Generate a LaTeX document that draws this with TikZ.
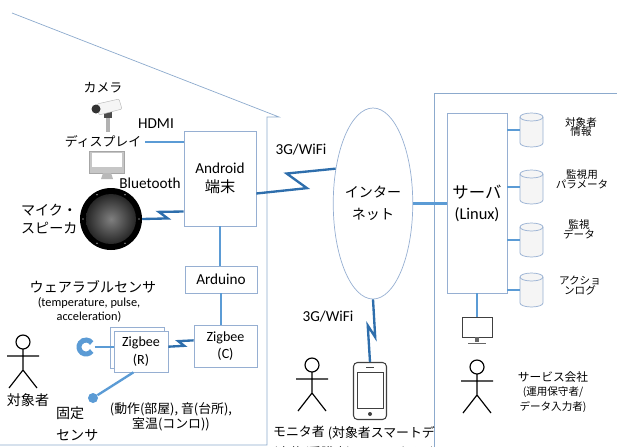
\documentclass[tikz,border=0pt]{standalone}
\usepackage{fontspec}
\setmainfont{Carlito}
\newfontfamily\jp{Noto Sans CJK JP}
\usetikzlibrary{calc,positioning,shapes.geometric,shadows}
\definecolor{linkblue}{RGB}{91,155,213}
\definecolor{boltblue}{RGB}{46,110,172}
\definecolor{edgegray}{RGB}{150,175,210}
\definecolor{wallblue}{RGB}{140,170,205}
\tikzset{
    box/.style={
           rectangle,
           draw=edgegray, fill=white,
           line width=0.6pt,
           inner sep=0pt,
           align=center},
    link/.style={
           draw=linkblue,
           line width=2pt},
    bolt/.style={
           draw=boltblue,
           line width=2pt,
           to path={-- ($(\tikztostart)!0.6!(\tikztotarget)!#1!90:(\tikztotarget)$)
                    -- ($(\tikztostart)!0.42!(\tikztotarget)!#1!-90:(\tikztotarget)$)
                    -- (\tikztotarget)}},
    dbcyl/.pic={
           \path[draw=edgegray, fill=gray!8, line width=0.6pt]
                (-11.5,-13) -- (-11.5,13)
                arc[start angle=180, end angle=0, x radius=11.5, y radius=4]
                -- (11.5,-13)
                arc[start angle=0, end angle=-180, x radius=11.5, y radius=4] -- cycle;
           \draw[edgegray, line width=0.6pt] (-11.5,-13)
                arc[start angle=180, end angle=0, x radius=11.5, y radius=4];
           \coordinate (-w) at (-11.5,0);},
    lbl/.style={
           font=\jp\fontsize{11}{13}\selectfont,
           align=center},
    latin/.style={
           font=\fontsize{13}{16}\selectfont},
    dblbl/.style={
           font=\jp\fontsize{9}{8.5}\selectfont,
           align=center},
    person/.pic={
           \draw[line width=1pt] (0,-28) circle (7);
           \draw[line width=1pt] (0,-21) -- (0,0) (-16,-14) -- (16,-14)
                (-14,18) -- (0,0) -- (14,18);}
}

\begin{document}
\begin{tikzpicture}[x=0.03cm, y=-0.03cm]
        \clip (0,0) rectangle (617,446);
        % house and service company area
        \draw[wallblue, line width=0.6pt] (12,13) -- (279,117) -- (267,117) -- (267,445) -- (0,445);
        \draw[wallblue, line width=0.6pt] (434,93) rectangle (650,480);

        % home side
        \node[box, latin, minimum width=2.16cm, minimum height=2.85cm] (android) at (220,178.5) {Android\\{\jp 端末}};
        \node[box, latin, minimum width=2.16cm, minimum height=0.81cm] (arduino) at (221,279.5) {Arduino};
        \node[box, font=\fontsize{12}{15}\selectfont, minimum width=1.89cm, minimum height=1.26cm] (zigc) at (225.5,346) {Zigbee\\(C)};
        \node[box, font=\fontsize{12}{15}\selectfont, minimum width=1.62cm, minimum height=1.23cm,
              copy shadow={shadow xshift=-0.1cm, shadow yshift=0.12cm, draw=edgegray, fill=white}] (zigr) at (141,351.5) {Zigbee\\(R)};

        % camera
        \node[lbl] (camlbl) at (103,88) {カメラ};
        \fill[gray!60] (106,114) rectangle (110,132);
        \fill[black!70] (104,112) rectangle (112,118);
        \draw[gray!55, fill=gray!8, rounded corners=1pt] (97,104) -- (119,99) -- (122,109) -- (99,115) -- cycle;
        \fill[black!80] (96,109) circle (4.5);

        % display
        \node[lbl] (displbl) at (103,142) {ディスプレイ};
        \node[draw=gray!70, fill=gray!45, minimum width=1.05cm, minimum height=0.66cm, inner sep=0pt] (disp) at (106.5,162) {};
        \fill[white] (92,153) rectangle (122,167);
        \fill[gray!55] (103,173) -- (111,173) -- (113,179) -- (101,179) -- cycle;
        \node[latin] (hdmi) at (156,124) {HDMI};

        % microphone speaker
        \node[circle, fill=black, minimum size=1.86cm, inner sep=0pt] (spk) at (111,219) {};
        \shade[inner color=black!50, outer color=black!85] (spk.center) circle (25);
        \foreach \a in {0,60,...,300}
            \fill[white] ($(spk.center)+(\a:28)$) circle (0.7);
        \node[lbl, anchor=west, align=left, font=\jp\fontsize{12}{15}\selectfont] (spklbl) at (17,219) {マイク・\\スピーカ};
        \node[latin] (btlbl) at (150,183) {Bluetooth};

        % wearable and fixed sensors
        \node[lbl, font=\jp\fontsize{12}{14}\selectfont] (wearlbl) at (93,287) {ウェアラブルセンサ};
        \node[font=\fontsize{10.5}{12}\selectfont, align=center] (wearsub) at (89,310) {(temperature, pulse,\\acceleration)};
        \node[circle, minimum size=0.5cm, inner sep=0pt] (band) at (86,347) {};
        \draw[linkblue, line width=0.15cm] ($(band.center)+(35:7)$) arc (35:325:7);
        \node[circle, fill=linkblue, minimum size=0.3cm, inner sep=0pt] (fixdot) at (93,398) {};
        \node[lbl, anchor=west, align=left, font=\jp\fontsize{12}{19}\selectfont] (fixlbl) at (52,424) {固定\\センサ};
        \node[lbl, font=\jp\fontsize{11}{10}\selectfont] (fixsub) at (171,417) {(動作(部屋), 音(台所),\\室温(コンロ))};
        \pic at (23,370) {person};
        \node[lbl, font=\jp\fontsize{12}{14}\selectfont] (subject) at (28,400) {対象者};

        % internet
        \node[ellipse, draw=edgegray, line width=0.6pt, minimum width=2.1cm, minimum height=5.73cm, inner sep=0pt,
              font=\jp\fontsize{12}{19}\selectfont, align=center] (inet) at (373,203.5) {インター\\ネット};
        \node[latin] (wan1) at (301,150) {3G/WiFi};
        \node[latin] (wan2) at (328,317) {3G/WiFi};

        % monitor person and phone
        \node[draw=black!75, line width=0.9pt, rounded corners=0.12cm, minimum width=0.99cm, minimum height=1.71cm, inner sep=0pt] (phone) at (370,391) {};
        \draw[black!75, line width=0.7pt] (357,372) rectangle (383,408);
        \draw[black!75, line width=0.7pt] (366,367) -- (374,367);
        \fill[black!75] (370,414) circle (2);
        \pic at (312,393) {person};
        \node[lbl, anchor=north west, align=left, font=\jp\fontsize{11}{17.5}\selectfont] (monlbl) at (269,422) {モニタ者\\(家族/看護士)};
        \node[lbl, anchor=north east, align=right, font=\jp\fontsize{11}{17.5}\selectfont] (phonelbl) at (439,422) {(対象者スマートデ\\バイス)};

        % server side
        \node[box, font=\fontsize{14}{18}\selectfont, minimum width=1.8cm, minimum height=5.4cm] (server) at (477,203) {{\jp サーバ}\\(Linux)};
        \pic (db1) at (531.5,130) {dbcyl};
        \pic (db2) at (531.5,187) {dbcyl};
        \pic (db3) at (531.5,240) {dbcyl};
        \pic (db4) at (531.5,290) {dbcyl};
        \node[dblbl] (db1lbl) at (581,127) {対象者\\情報};
        \node[dblbl] (db2lbl) at (582,179) {監視用\\パラメータ};
        \node[dblbl] (db3lbl) at (579,229.5) {監視\\データ};
        \node[dblbl] (db4lbl) at (580,286) {アクショ\\ンログ};
        \node[draw=black!75, line width=0.8pt, minimum width=0.9cm, minimum height=0.6cm, inner sep=0pt] (mon) at (477,327) {};
        \fill[black!60] (475,337) rectangle (479,342);
        \draw[black!60, line width=0.8pt] (468,343) -- (486,343);
        \pic at (477,395) {person};
        \node[lbl, font=\jp\fontsize{10}{12.5}\selectfont] (corp) at (553,392) {サービス会社\\{\fontsize{9}{12}\selectfont (運用保守者/}\\{\fontsize{9}{12}\selectfont データ入力者)}};

        % wired links
        \draw[link] (displbl.east) -- (displbl.east -| android.west);
        \draw[link] (android.south) -- (android.south |- arduino.north);
        \draw[link] (arduino.south) -- (arduino.south |- zigc.north);
        \draw[link] (band.east) -- (band.east -| zigr.west);
        \draw[link] (zigr.250) -- (fixdot);
        \draw[link] (inet.east) -- (inet.east -| server.west);
        \foreach \d in {db1,db2,db3,db4}
            \draw[link] (\d-w -| server.east) -- (\d-w);
        \draw[link] (server.south) -- (mon.north);

        % wireless links
        \coordinate (btend) at ($(android.west)+(0,33)$);
        \coordinate (wanstart) at ($(android.east)+(0,15)$);
        \draw[bolt=-0.12cm] (spk.east) to (btend);
        \draw[bolt=-0.3cm] (wanstart) to (inet.137);
        \draw[bolt=-0.09cm] (zigr.10) to (zigc.170);
        \draw[bolt=0.12cm] (inet.south) to (phone.north);
\end{tikzpicture}
\end{document}
